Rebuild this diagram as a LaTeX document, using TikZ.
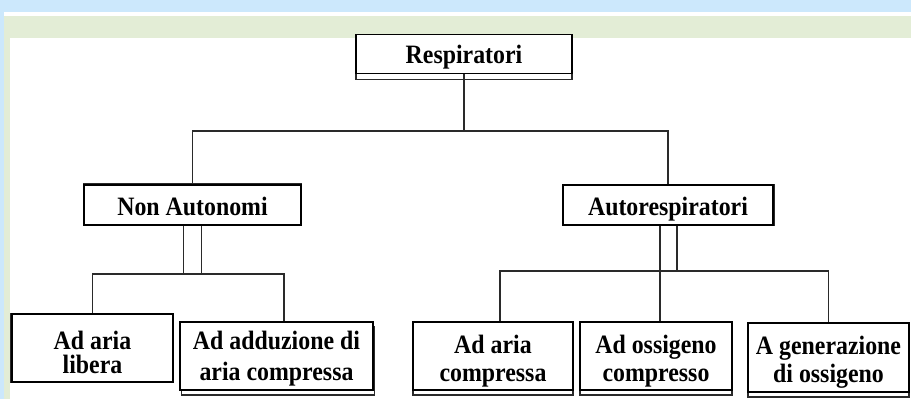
\documentclass[tikz,border=0pt]{standalone}
\usepackage{fontspec}
\setmainfont{Liberation Serif}[FakeStretch=0.9]
\usetikzlibrary{calc,positioning,shadows}
\definecolor{bgblue}{HTML}{CCE8FC}
\definecolor{bggreen}{HTML}{E3EDD6}
\definecolor{linegray}{HTML}{2A2A2A}
\tikzset{
  box/.style={draw=black,line width=1.3pt,fill=white,align=center,inner sep=0pt,
    font=\bfseries\fontsize{26.5}{28}\selectfont},
  boxshade/.style={general shadow={#1,fill=white,draw=linegray,line width=1.8pt}},
  link/.style={draw=linegray,line width=1.8pt}
}

\begin{document}
\begin{tikzpicture}[x=1pt,y=-1pt]
  % background bands
  \fill[bgblue] (0,0) rectangle (911,399);
  \fill[white] (4,12) rectangle (911,16);
  \fill[bggreen] (4,16) rectangle (911,38);
  \fill[bggreen] (4,38) rectangle (10,399);
  \fill[white] (10,38) rectangle (911,399);
  \useasboundingbox (0,0) rectangle (911,399);

  % top level
  \node[box,minimum width=216pt,minimum height=39pt,text height=18pt,text depth=0pt,
    boxshade={shadow yshift=-6pt}] (resp) at (464,54) {Respiratori};

  % second level
  \node[box,minimum width=217pt,minimum height=40pt,text height=20pt,text depth=0pt,
    boxshade={shadow yshift=1.5pt}] (nonaut) at (192.5,205) {Non Autonomi};
  \node[box,minimum width=210pt,minimum height=40pt,text height=20pt,text depth=0pt,
    boxshade={shadow xshift=1.5pt}] (auto) at (668,205) {Autorespiratori};

  % third level
  \node[box,minimum width=161pt,minimum height=68pt,text height=50pt,text depth=0pt,
    boxshade={shadow xshift=-1.5pt}] (libera) at (92.5,348) {Ad aria\\[-4pt]libera};
  \node[box,minimum width=193pt,minimum height=68pt,text height=48pt,text depth=0pt,
    boxshade={shadow xshift=1.5pt,shadow yshift=-5pt}] (adduz) at (276.5,356)
    {Ad adduzione di\\[3pt]aria compressa};
  \node[box,minimum width=160pt,minimum height=68pt,text height=50pt,text depth=0pt,
    boxshade={shadow yshift=-5pt}] (acomp) at (493,356) {Ad aria\\compressa};
  \node[box,minimum width=152pt,minimum height=68pt,text height=50pt,text depth=0pt,
    boxshade={shadow yshift=-5pt}] (ossig) at (656,356) {Ad ossigeno\\compresso};
  \node[box,minimum width=161pt,minimum height=69pt,text height=50pt,text depth=0pt,
    boxshade={shadow yshift=-5pt}] (gen) at (828.5,357.5) {A generazione\\di ossigeno};

  % connectors
  \coordinate (tbar) at (464,131);
  \coordinate (nbar) at (192,274);
  \coordinate (abar) at (668,271);
  \draw[link] (resp.south) -- (tbar);
  \draw[link] (nonaut.north) |- (tbar) -| (auto.north);

  \draw[link] ([xshift=-9pt]nonaut.south) -- ([xshift=-9pt]nonaut.south |- nbar);
  \draw[link] ([xshift=9pt]nonaut.south) -- ([xshift=9pt]nonaut.south |- nbar);
  \draw[link] (libera.north) |- ([xshift=7.5pt]adduz.north |- nbar)
    -- ([xshift=7.5pt]adduz.north);

  \draw[link] ([xshift=-8pt]auto.south) -- ([xshift=-8pt]auto.south |- abar);
  \draw[link] ([xshift=9pt]auto.south) -- ([xshift=9pt]auto.south |- abar);
  \draw[link] ([xshift=7pt]acomp.north) |- (gen.north |- abar) -- (gen.north);
  \draw[link] ([xshift=4pt]ossig.north) -- ([xshift=4pt]ossig.north |- abar);
\end{tikzpicture}
\end{document}
